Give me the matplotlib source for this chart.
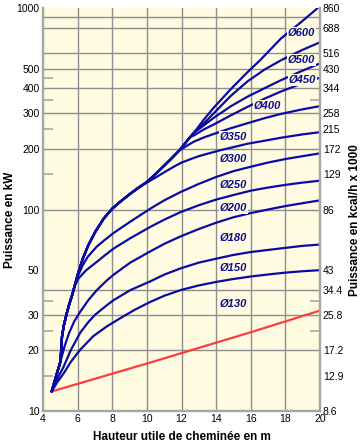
import matplotlib
matplotlib.use("Agg")
import matplotlib.pyplot as plt
from matplotlib.ticker import FixedLocator, NullFormatter

plt.rcParams["font.family"] = ["Liberation Sans", "DejaVu Sans"]

# -----------------------------
# Data (x = hauteur en m, y = puissance en kW)
# -----------------------------
# common trunk shared by the large diameters before they split off
TRUNK_X = [4.5, 5.0, 5.05, 5.1, 5.2, 5.35, 5.5, 5.7, 5.9, 6.05, 6.3, 6.6, 7.0, 7.5, 8.0,
           8.5, 9.0, 9.5, 10.0, 10.5, 11.0, 11.5, 11.84, 12.3, 12.5, 12.71]
TRUNK_Y = [12.5, 17.5, 20, 23.5, 26.5, 30, 33.5, 38, 44, 49, 57, 66, 77, 90, 101,
           110, 119, 128, 137, 150, 165, 182, 195, 218, 229, 240]

D600_X = [13.3, 13.86, 14.84, 15.81, 16.58, 17.74, 18.9, 19.87]
D600_Y = [280, 320, 395, 480, 555, 705, 850, 1000]

D500_X = [13.3, 13.86, 14.84, 15.81, 16.8, 17.74, 18.9, 20.0]
D500_Y = [268, 300, 366, 432, 495, 550, 615, 676]

D450_X = [12.9, 13.3, 13.86, 14.84, 15.81, 16.8, 17.74, 18.9, 20.0]
D450_Y = [247, 262, 285, 325, 363, 400, 438, 485, 531]

D400_X = [12.71, 13.3, 13.86, 14.84, 15.81, 16.8, 17.74, 18.9, 20.0]
D400_Y = [233, 250, 264, 293, 323, 355, 385, 420, 451]

D350_X = [12.3, 12.71, 13.3, 13.86, 14.84, 15.81, 16.8, 17.74, 18.9, 20.0]
D350_Y = [207, 217, 228, 237, 253, 268, 284, 298, 313, 326]

D300_X = [10.0, 10.5, 11.0, 11.5, 11.94, 12.5, 13.0, 14.26, 15.0, 15.81, 17.0, 17.74, 19.0, 20.0]
D300_Y = [136, 144, 153, 162, 170, 177.5, 184, 197, 204, 212, 221, 227, 236, 242]

D250_X = [5.86, 6.05, 6.3, 6.6, 7.11, 7.6, 8.08, 9.04, 10.2, 11.0, 11.94, 13.0, 14.0, 15.0,
          16.0, 17.0, 18.0, 19.0, 20.0]
D250_Y = [43, 47.5, 53, 58.5, 65.5, 71, 76.5, 87, 101, 111, 122, 134, 145, 155,
          163, 171, 178, 184, 190]

D200_X = [5.85, 6.05, 6.5, 7.11, 7.6, 8.08, 9.04, 10.2, 11.0, 11.94, 13.0, 14.0, 15.0,
          16.0, 17.0, 18.0, 19.0, 20.0]
D200_Y = [42, 45.5, 50, 55, 59.5, 64, 72, 82, 89, 97, 105, 112, 118,
          124, 128.5, 132.5, 136, 139]

D180_X = [4.5, 4.75, 5.0, 5.25, 5.5, 5.8, 6.14, 6.62, 7.11, 7.69, 8.08, 9.04, 10.2, 11.0,
          11.94, 13.0, 14.0, 15.0, 16.0, 17.0, 18.0, 19.0, 20.0]
D180_Y = [12.5, 15, 17.5, 21, 24.3, 27.8, 31, 35.5, 39.8, 44.5, 47.5, 54.5, 62, 67.5,
          73.5, 80, 86, 91.5, 96, 100, 104, 107.5, 111]

D150_X = [4.5, 4.8, 5.18, 5.6, 6.14, 6.6, 7.0, 7.69, 8.08, 9.04, 10.2, 11.0, 11.94, 13.0,
          14.0, 15.0, 16.0, 17.0, 18.0, 19.0, 20.0]
D150_Y = [12.5, 14.3, 16.5, 20, 24.4, 27.5, 30, 33.5, 35.5, 39.8, 44, 47.5, 51, 54.5,
          57, 59.5, 61.5, 63, 64.5, 66, 67]

D130_X = [4.5, 4.8, 5.18, 5.6, 6.14, 6.9, 7.69, 8.5, 9.3, 10.2, 11.0, 11.94, 13.0, 14.0,
          15.0, 16.0, 17.0, 18.0, 19.0, 20.0]
D130_Y = [12.5, 13.8, 15.3, 17.5, 20.1, 23.5, 26.3, 29, 31.8, 34.8, 37.3, 39.8, 42, 43.7,
          45.2, 46.5, 47.6, 48.6, 49.4, 50]

RED_X = [4.5, 10.2, 16.0, 20.0]
RED_Y = [12.5, 17.4, 24.6, 31.5]

LABELS = ["Ø600", "Ø500", "Ø450", "Ø400", "Ø350", "Ø300", "Ø250", "Ø200", "Ø180", "Ø150", "Ø130"]

X_TICKS = [4, 6, 8, 10, 12, 14, 16, 18, 20]
LEFT_TICKS = [10, 20, 30, 50, 100, 200, 300, 400, 500, 1000]
RIGHT_TICKS = [10, 15, 20, 30, 40, 50, 100, 150, 200, 250, 300, 400, 500, 600, 800, 1000]
RIGHT_LABELS = ["8.6", "12.9", "17.2", "25.8", "34.4", "43", "86", "129", "172", "215",
                "258", "344", "430", "516", "688", "860"]
LEFT_MINOR = [15, 25, 35, 50, 150, 250, 350, 450]
RIGHT_MINOR = [15, 25, 35, 150, 250, 350]
GRID_X = [6, 8, 10, 12, 14, 16, 18]
GRID_Y = [20, 30, 40, 100, 200, 300, 400, 500, 600, 800, 900]

# label placement (layout only)
LABEL_X = [18.94, 18.94, 19.0, 16.97, 15.01, 15.01, 15.01, 15.01, 15.01, 15.01, 15.01]
LABEL_Y = [754, 552, 439, 326, 230, 178, 133, 101.4, 72, 51.4, 34]

# -----------------------------
# Style
# -----------------------------
BG = "#FFFCE2"
GRID = "#8E8E8E"
SPINE = "#A6A6A6"
BLUE = "#0A0AA5"
RED = "#FF3C3C"
LABEL_BLUE = "#0A0A8C"


def with_trunk(xs, ys):
    # the curve follows the trunk up to where it splits off
    pre = [(tx, ty) for tx, ty in zip(TRUNK_X, TRUNK_Y) if tx < xs[0]]
    return [p[0] for p in pre] + xs, [p[1] for p in pre] + ys


curves = [
    with_trunk(D600_X, D600_Y), with_trunk(D500_X, D500_Y), with_trunk(D450_X, D450_Y),
    with_trunk(D400_X, D400_Y), with_trunk(D350_X, D350_Y), with_trunk(D300_X, D300_Y),
    with_trunk(D250_X, D250_Y), with_trunk(D200_X, D200_Y),
    (D180_X, D180_Y), (D150_X, D150_Y), (D130_X, D130_Y),
]

fig = plt.figure(figsize=(3.64, 4.45), dpi=100)
ax = fig.add_axes([43 / 364, 1 - 411 / 445, (320 - 43) / 364, (411 - 8) / 445])
ax.set_facecolor(BG)
ax.set_yscale("log")
ax.set_xlim(4, 20)
ax.set_ylim(10, 1000)

for gx in GRID_X:
    ax.axvline(gx, color=GRID, lw=1.0, zorder=1)
for gy in GRID_Y:
    ax.axhline(gy, color=GRID, lw=1.0, zorder=1)

ax.plot(RED_X, RED_Y, color=RED, lw=1.6, zorder=3, solid_capstyle="round")
for xs, ys in curves:
    ax.plot(xs, ys, color=BLUE, lw=1.6, zorder=3, solid_joinstyle="round", solid_capstyle="round")

for text, lx, ly in zip(LABELS, LABEL_X, LABEL_Y):
    ax.text(lx, ly, text, ha="center", va="center", color=LABEL_BLUE, fontsize=8,
            fontweight="bold", style="italic", zorder=4,
            bbox=dict(facecolor=BG, edgecolor="none", pad=0.6))

# left axis
ax.set_xticks(X_TICKS)
ax.set_xticklabels([str(v) for v in X_TICKS])
ax.yaxis.set_major_locator(FixedLocator(LEFT_TICKS))
ax.set_yticklabels([str(v) for v in LEFT_TICKS])
ax.yaxis.set_minor_locator(FixedLocator(LEFT_MINOR))
ax.yaxis.set_minor_formatter(NullFormatter())
ax.tick_params(axis="both", which="major", length=0, labelsize=7.5, pad=2.5, colors="black")
ax.tick_params(axis="y", which="minor", direction="in", length=7, width=1.2, color=SPINE)

# right axis (kcal/h x 1000)
ax2 = ax.twinx()
ax2.set_yscale("log")
ax2.set_ylim(10, 1000)
ax2.yaxis.set_major_locator(FixedLocator(RIGHT_TICKS))
ax2.set_yticklabels(RIGHT_LABELS)
ax2.yaxis.set_minor_locator(FixedLocator(RIGHT_MINOR))
ax2.yaxis.set_minor_formatter(NullFormatter())
ax2.tick_params(axis="y", which="major", length=0, labelsize=7.5, pad=2)
ax2.tick_params(axis="y", which="minor", direction="in", length=7, width=1.2, color=SPINE)

for a in (ax, ax2):
    a.spines["top"].set_visible(False)
    for side in ("left", "right", "bottom"):
        a.spines[side].set_color(SPINE)
        a.spines[side].set_linewidth(1.6)
        a.spines[side].set_zorder(5)

fig.text(181.5 / 364, 1 - 437 / 445, "Hauteur utile de cheminée en m", ha="center", va="center",
         fontsize=8.5, fontweight="bold")
fig.text(10.5 / 364, 1 - 220 / 445, "Puissance en kW", ha="center", va="center",
         rotation=90, fontsize=8.5, fontweight="bold")
fig.text(355 / 364, 1 - 220 / 445, "Puissance en kcal/h x 1000", ha="center", va="center",
         rotation=90, fontsize=8.5, fontweight="bold")

fig.savefig("out.png", dpi=100, facecolor="white")
plt.close(fig)
